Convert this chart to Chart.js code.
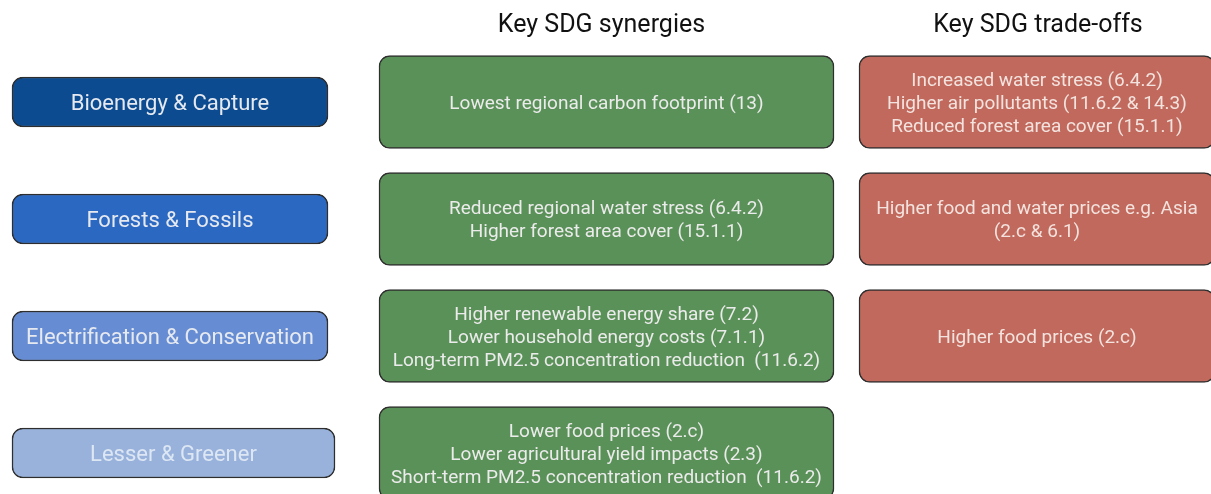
<!DOCTYPE html>
<html>
<head>
<meta charset="utf-8">
<script src="https://cdn.jsdelivr.net/npm/chart.js@4"></script>
<style>
  html, body { margin: 0; padding: 0; background: #fff; }
  #wrap { width: 1211px; height: 494px; }
</style>
</head>
<body>
<div id="wrap"><canvas id="grafico"></canvas></div>
<script>
// datos del diagrama
const escenarios = ['Bioenergy & Capture', 'Forests & Fossils', 'Electrification & Conservation', 'Lesser & Greener']
const sinergias = [
  ['Lowest regional carbon footprint (13)'],
  ['Reduced regional water stress (6.4.2)', 'Higher forest area cover (15.1.1)'],
  ['Higher renewable energy share (7.2)', 'Lower household energy costs (7.1.1)', 'Long-term PM2.5 concentration reduction  (11.6.2)'],
  ['Lower food prices (2.c)', 'Lower agricultural yield impacts (2.3)', 'Short-term PM2.5 concentration reduction  (11.6.2)']
]
const compensaciones = [
  ['Increased water stress (6.4.2)', 'Higher air pollutants (11.6.2 & 14.3)', 'Reduced forest area cover (15.1.1)'],
  ['Higher food and water prices e.g. Asia', '(2.c & 6.1)'],
  ['Higher food prices (2.c)'],
  null
]
const encabezados = ['Key SDG synergies', 'Key SDG trade-offs']

// layout de columnas (en unidades del eje x)
const colEscenario = [[12, 328], [12, 328], [12, 328], [12, 335]]
const colSinergia = [379, 834]
const colCompensa = [859, 1215]
const coloresEscenario = ['#0d4b91', '#2b68c1', '#668dd3', '#98b2dc']
const textoEscenario = ['#e6e9ef', '#e6e9ef', '#e6e9ef', '#dde6f3']

const datasets = [
  {
    label: 'Escenarios',
    data: colEscenario.map(c => c.slice()),
    backgroundColor: coloresEscenario,
    barThickness: 50,
    lineas: escenarios.map(e => [e]),
    fuente: '22px Roboto',
    colorTexto: textoEscenario
  },
  {
    label: encabezados[0],
    data: sinergias.map(s => s ? colSinergia.slice() : null),
    backgroundColor: '#5a9158',
    barThickness: 93,
    lineas: sinergias,
    fuente: '19px Roboto',
    colorTexto: '#ebebeb'
  },
  {
    label: encabezados[1],
    data: compensaciones.map(s => s ? colCompensa.slice() : null),
    backgroundColor: '#c1695c',
    barThickness: 93,
    lineas: compensaciones,
    fuente: '19px Roboto',
    colorTexto: '#f3e3df'
  }
].map(d => Object.assign(d, {
  grouped: false,
  borderColor: '#2e2e2e',
  borderWidth: 1.5,
  borderSkipped: false,
  borderRadius: 11,
  clip: false
}))

const textos = {
  id: 'textos',
  afterDatasetsDraw(chart) {
    const ctx = chart.ctx
    const x = chart.scales.x
    ctx.save()
    ctx.textAlign = 'center'
    ctx.textBaseline = 'middle'
    chart.data.datasets.forEach((ds, i) => {
      const meta = chart.getDatasetMeta(i)
      meta.data.forEach((el, j) => {
        const lineas = ds.lineas[j]
        if (!lineas || ds.data[j] == null) return
        const cx = (el.x + el.base) / 2
        const alto = 23
        ctx.font = ds.fuente
        ctx.fillStyle = Array.isArray(ds.colorTexto) ? ds.colorTexto[j] : ds.colorTexto
        lineas.forEach((t, k) => {
          ctx.fillText(t, cx, el.y + 2 + (k - (lineas.length - 1) / 2) * alto)
        })
      })
    })
    // encabezados de columna
    ctx.font = '25px Roboto'
    ctx.fillStyle = '#111'
    ctx.fillText(encabezados[0], x.getPixelForValue((colSinergia[0] + colSinergia[1]) / 2) - 5, 26)
    ctx.fillText(encabezados[1], x.getPixelForValue((colCompensa[0] + 1211) / 2) + 3, 26)
    ctx.restore()
  }
}

new Chart(document.querySelector('#grafico'), {
  type: 'bar',
  data: { labels: escenarios, datasets },
  options: {
    indexAxis: 'y',
    responsive: true,
    maintainAspectRatio: false,
    animation: false,
    layout: { padding: { top: 102, bottom: 41, left: 0, right: 0 } },
    scales: {
      x: { type: 'linear', min: 0, max: 1211, display: false },
      y: { type: 'category', offset: false, display: false }
    },
    plugins: {
      legend: { display: false },
      tooltip: { enabled: false }
    }
  },
  plugins: [textos]
})
</script>
</body>
</html>
